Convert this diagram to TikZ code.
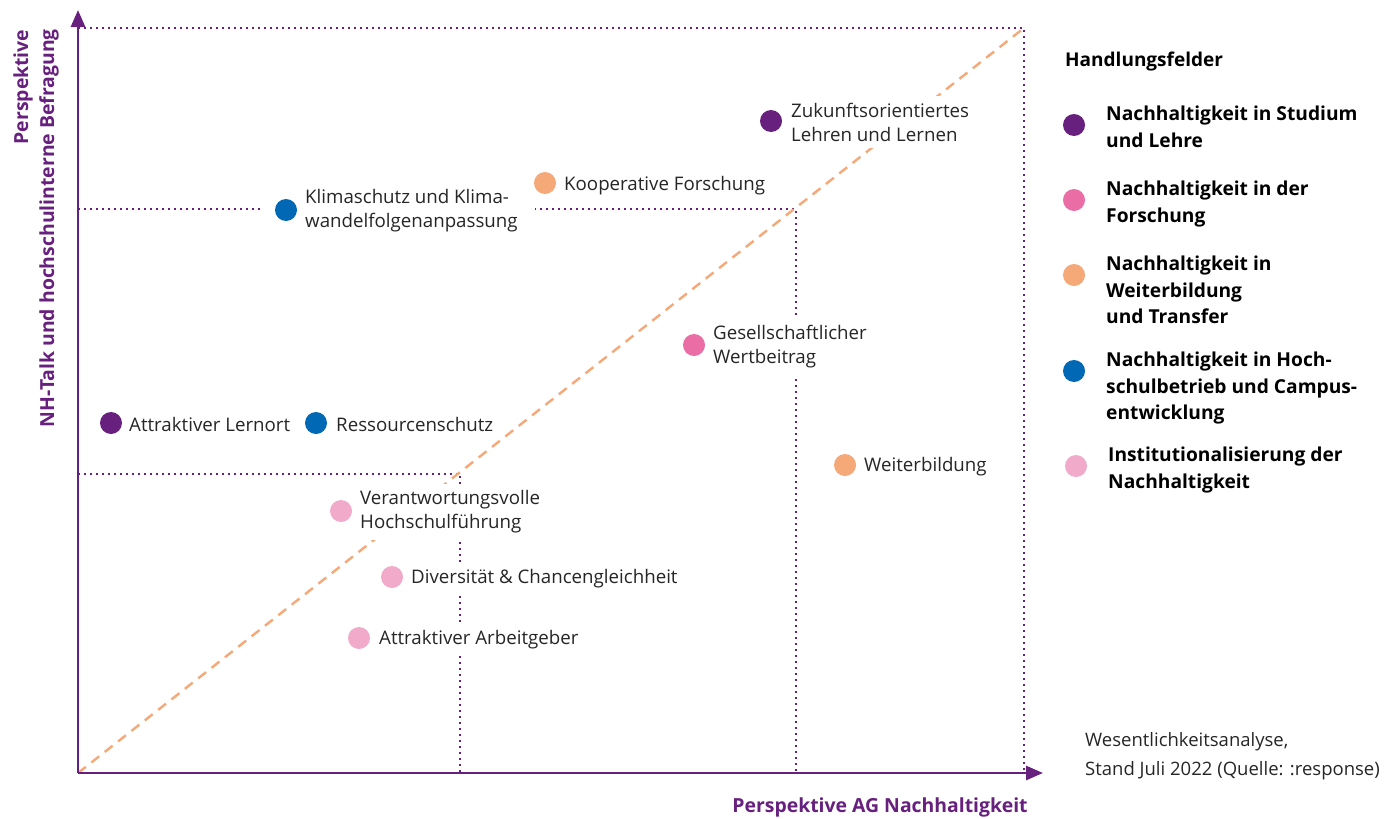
\documentclass[tikz,border=0pt]{standalone}
\usepackage{fontspec}
\setmainfont{Open Sans}
\usetikzlibrary{arrows.meta}
\definecolor{cPurple}{HTML}{68207F}
\definecolor{cBlue}{HTML}{0068B4}
\definecolor{cOrange}{HTML}{F5A878}
\definecolor{cPink}{HTML}{EA6EA5}
\definecolor{cLight}{HTML}{F2AACB}
\definecolor{cText}{HTML}{262626}
\tikzset{
  axis/.style={draw=cPurple, line width=2.8pt, -{Triangle[length=17pt,width=14pt]}},
  guide/.style={draw=cPurple, line width=2.6pt, dash pattern=on 2.4pt off 3.6pt},
  diag/.style={draw=cOrange, line width=2.4pt, dash pattern=on 10pt off 7pt},
  dot/.style={circle, fill=#1, minimum size=22pt, inner sep=0pt},
  lbl/.style={anchor=west, align=left, text=cText, font=\fontsize{18.7}{24}\selectfont, fill=white, inner xsep=3pt, inner ysep=7pt},
  leg/.style={anchor=north west, align=left, text=black, font=\bfseries\fontsize{19.2}{26.5}\selectfont, inner sep=0pt},
  axlbl/.style={text=cPurple, font=\bfseries\fontsize{19.4}{24}\selectfont, inner sep=0pt},
  srctxt/.style={anchor=base west, text=cText, font=\fontsize{18.5}{24}\selectfont, inner sep=0pt}
}
\begin{document}
\begin{tikzpicture}[x=1pt, y=-1pt]
\useasboundingbox[fill=white] (0,0) rectangle (1385,819);
% coordinates
\coordinate (O) at (78,773);
\coordinate (TR) at (1024,28);
\coordinate (TL) at (78,28);
\coordinate (BR) at (1024,773);
\coordinate (H1) at (78,209);
\coordinate (C1) at (796,209);
\coordinate (V1) at (796,773);
\coordinate (H2) at (78,474);
\coordinate (C2) at (460,474);
\coordinate (V2) at (460,773);
\coordinate (YT) at (78,10);
\coordinate (XT) at (1043,773);
% guides
\draw[guide] (TL) -- (TR) -- (BR);
\draw[guide] (H1) -- (C1) -- (V1);
\draw[guide] (H2) -- (C2) -- (V2);
\draw[diag] (O) -- (TR);
% axes
\draw[axis] (O) -- (YT);
\draw[axis] (O) -- (XT);
% white backing of the Klimaschutz entry
\fill[white] (261,192) rectangle (535,228);
% labels
\node[lbl] (l1) at (788,122) {Zukunftsorientiertes\\Lehren und Lernen};
\node[lbl] (l2) at (561,186) {Kooperative Forschung};
\node[lbl] (l3) at (302,211) {Klimaschutz und Klima-\\wandelfolgenanpassung};
\node[lbl] (l4) at (710,347) {Gesellschaftlicher\\Wertbeitrag};
\node[lbl] (l5) at (126,424) {Attraktiver Lernort};
\node[lbl] (l6) at (333,424) {Ressourcenschutz};
\node[lbl] (l7) at (861,467) {Weiterbildung};
\node[lbl] (l8) at (357,512) {Verantwortungsvolle\\Hochschulführung};
\node[lbl] (l9) at (408,579) {Diversität \& Chancengleichheit};
\node[lbl] (l10) at (376,640) {Attraktiver Arbeitgeber};
% dots
\node[dot=cPurple] (d1) at (771,121) {};
\node[dot=cOrange] (d2) at (545,183) {};
\node[dot=cBlue] (d3) at (286,210) {};
\node[dot=cPink] (d4) at (694,345) {};
\node[dot=cPurple] (d5) at (111,423) {};
\node[dot=cBlue] (d6) at (316,423) {};
\node[dot=cOrange] (d7) at (845,465) {};
\node[dot=cLight] (d8) at (341,511) {};
\node[dot=cLight] (d9) at (392,577) {};
\node[dot=cLight] (d10) at (359,638) {};
% axis labels
\node[axlbl, anchor=base] (xl) at (880,812) {Perspektive AG Nachhaltigkeit};
\node[axlbl, rotate=90, anchor=base] (yl1) at (28,87) {Perspektive};
\node[axlbl, rotate=90, anchor=base] (yl2) at (54,228) {NH-Talk und hochschulinterne Befragung};
% legend
\node[anchor=base west, text=black, font=\bfseries\fontsize{19}{24}\selectfont, inner sep=0pt] (lh) at (1065,66) {Handlungsfelder};
\node[dot=cPurple] (g1) at (1074,125) {};
\node[dot=cPink] (g2) at (1074,200) {};
\node[dot=cOrange] (g3) at (1074,275) {};
\node[dot=cBlue] (g4) at (1074,371) {};
\node[dot=cLight] (g5) at (1076,466) {};
\node[leg] (t1) at (1106,106) {Nachhaltigkeit in Studium\\und Lehre};
\node[leg] (t2) at (1106,181) {Nachhaltigkeit in der\\Forschung};
\node[leg] (t3) at (1106,256) {Nachhaltigkeit in\\Weiterbildung\\und Transfer};
\node[leg] (t4) at (1106,352) {Nachhaltigkeit in Hoch-\\schulbetrieb und Campus-\\entwicklung};
\node[leg] (t5) at (1108,447) {Institutionalisierung der\\Nachhaltigkeit};
% source
\node[srctxt] (src1) at (1085,746) {Wesentlichkeitsanalyse,};
\node[srctxt] (src2) at (1085,775) {Stand Juli 2022 (Quelle: :response)};
\end{tikzpicture}
\end{document}
